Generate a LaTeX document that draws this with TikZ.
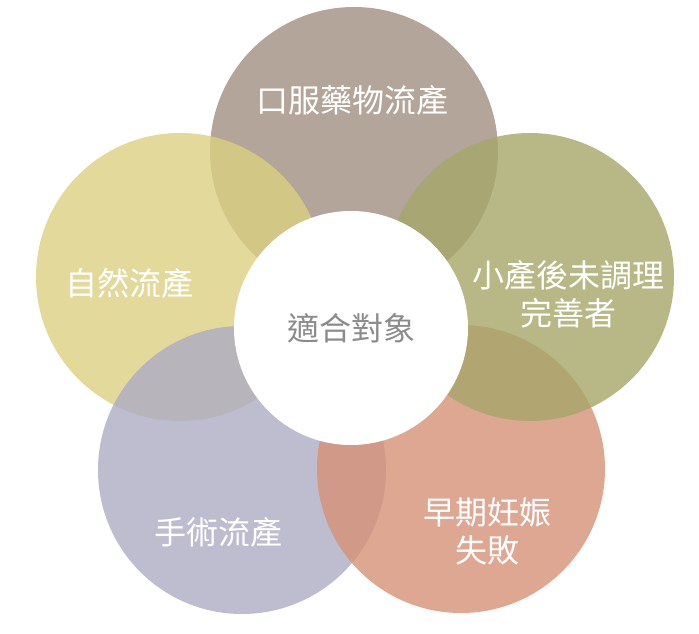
\documentclass[tikz,border=0pt]{standalone}
\usepackage{fontspec}
\newfontfamily\cjk{Noto Sans CJK TC}
\definecolor{ctaupe}{RGB}{160,143,128}
\definecolor{cyellow}{RGB}{220,208,130}
\definecolor{colive}{RGB}{166,166,105}
\definecolor{cpurple}{RGB}{174,171,195}
\definecolor{csalmon}{RGB}{214,145,119}
\definecolor{cgreytext}{RGB}{140,140,140}
\begin{document}
\begin{tikzpicture}[x=1pt,y=-1pt,
  petal/.style={circle,minimum size=288pt,inner sep=0pt,fill opacity=0.8,draw=none},
  hub/.style={circle,minimum size=234pt,inner sep=0pt,fill=white,draw=none},
  lbl/.style={text=white,font=\cjk\fontsize{32}{38}\selectfont,align=center,inner sep=0pt},
  hublbl/.style={text=cgreytext,font=\cjk\fontsize{32}{38}\selectfont,align=center,inner sep=0pt}]
\useasboundingbox (0,0) rectangle (699,634);
\node[petal,fill=ctaupe] (p1) at (354,151) {};
\node[petal,fill=cyellow] (p2) at (180,277) {};
\node[petal,fill=cpurple] (p4) at (242,470) {};
\node[petal,fill=csalmon] (p5) at (461,469) {};
\node[petal,fill=colive] (p3) at (530,277) {};
\node[hub] (hub) at (351,328) {};
\node[hublbl] (t0) at (351,328) {適合對象};
\node[lbl] (t1) at (352,100) {口服藥物流產};
\node[lbl] (t2) at (129,283) {自然流產};
\node[lbl] (t3) at (568,294) {小產後未調理\\完善者};
\node[lbl] (t4) at (218,532) {手術流產};
\node[lbl] (t5) at (487,531) {早期妊娠\\失敗};
\end{tikzpicture}
\end{document}
